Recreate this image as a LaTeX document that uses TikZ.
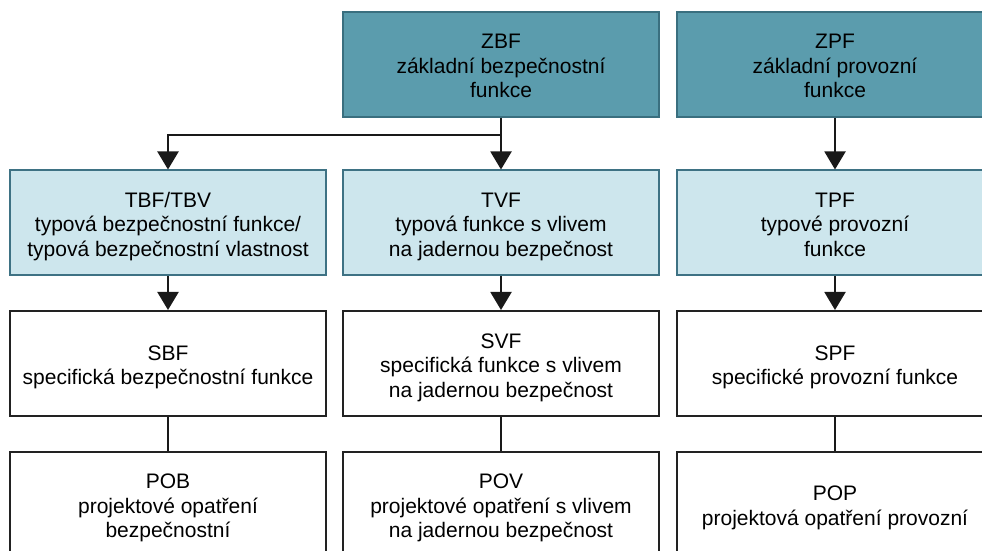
\documentclass[tikz,border=0pt]{standalone}
\usepackage{fontspec}
\setmainfont{Liberation Sans}
\usetikzlibrary{arrows.meta}

\definecolor{topfill}{HTML}{5B9CAD}
\definecolor{topedge}{HTML}{3A6F7F}
\definecolor{midfill}{HTML}{CDE6ED}
\definecolor{midedge}{HTML}{3E7284}
\definecolor{lowedge}{HTML}{222222}

% struts on the first and last line, so every text block sits alike
\newcommand{\firststrut}{\rule{0pt}{23bp}}
\newcommand{\laststrut}{\rule[-5bp]{0pt}{0pt}}

\tikzset{
  box/.style={rectangle, minimum width=316bp, minimum height=105bp,
    line width=2bp, align=center, inner sep=0pt,
    font=\fontsize{21bp}{24.5bp}\selectfont},
  toprow/.style={box, draw=topedge, fill=topfill},
  midrow/.style={box, draw=midedge, fill=midfill},
  lowrow/.style={box, draw=lowedge, fill=white},
  link/.style={line width=2bp, draw=black!90},
  flow/.style={link, -{Triangle[width=21bp,length=18bp]}}
}

\begin{document}
\begin{tikzpicture}[x=1bp,y=-1bp]
  \useasboundingbox (0,0) rectangle (982,551);
  \clip (0,0) rectangle (982,551);

  % basic functions
  \node[toprow] (zbf) at (501,64.5) {\firststrut ZBF\\základní bezpečnostní\\funkce\laststrut};
  \node[toprow] (zpf) at (835,64.5) {\firststrut ZPF\\základní provozní\\funkce\laststrut};

  % typical functions
  \node[midrow] (tbf) at (168,223) {\firststrut TBF/TBV\\typová bezpečnostní funkce/\\typová bezpečnostní vlastnost\laststrut};
  \node[midrow] (tvf) at (501,223) {\firststrut TVF\\typová funkce s vlivem\\na jadernou bezpečnost\laststrut};
  \node[midrow] (tpf) at (835,223) {\firststrut TPF\\typové provozní\\funkce\laststrut};

  % specific functions
  \node[lowrow] (sbf) at (168,363.5) {\firststrut SBF\\specifická bezpečnostní funkce\laststrut};
  \node[lowrow] (svf) at (501,363.5) {\firststrut SVF\\specifická funkce s vlivem\\na jadernou bezpečnost\laststrut};
  \node[lowrow] (spf) at (835,363.5) {\firststrut SPF\\specifické provozní funkce\laststrut};

  % design measures
  \node[lowrow] (pob) at (168,504) {\firststrut POB\\projektové opatření\\bezpečnostní\laststrut};
  \node[lowrow] (pov) at (501,504) {\firststrut POV\\projektové opatření s vlivem\\na jadernou bezpečnost\laststrut};
  \node[lowrow] (pop) at (835,504) {\firststrut POP\\projektová opatření provozní\laststrut};

  % connectors
  \coordinate (split) at (501,135);
  \draw[link] (zbf.south) -- (split);
  \draw[flow] (split) -| (tbf.north);
  \draw[flow] (split) -- (tvf.north);
  \draw[flow] (zpf) -- (tpf);
  \draw[flow] (tbf) -- (sbf);
  \draw[flow] (tvf) -- (svf);
  \draw[flow] (tpf) -- (spf);
  \draw[link] (sbf) -- (pob);
  \draw[link] (svf) -- (pov);
  \draw[link] (spf) -- (pop);
\end{tikzpicture}
\end{document}
